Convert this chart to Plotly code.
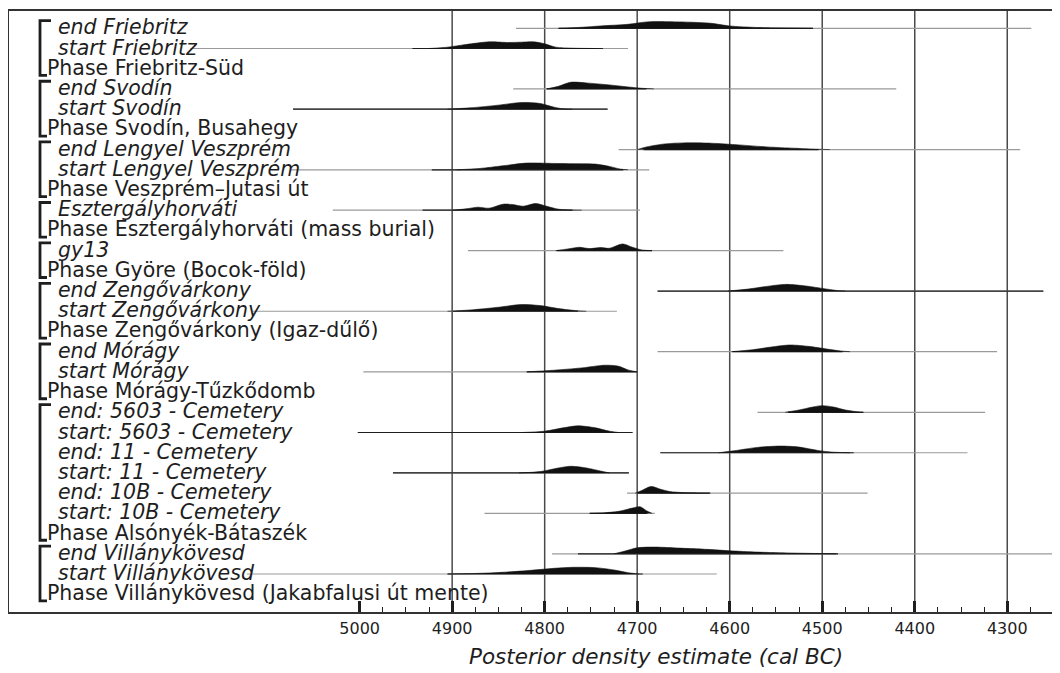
import plotly.graph_objects as go

# ---------------- data ----------------
labels = [
    "end Friebritz", "start Friebritz", "Phase Friebritz-Süd",
    "end Svodín", "start Svodín", "Phase Svodín, Busahegy",
    "end Lengyel Veszprém", "start Lengyel Veszprém", "Phase Veszprém–Jutasi út",
    "Esztergályhorváti", "Phase Esztergályhorváti (mass burial)",
    "gy13", "Phase Györe (Bocok-föld)",
    "end Zengővárkony", "start Zengővárkony", "Phase Zengővárkony (Igaz-dűlő)",
    "end Mórágy", "start Mórágy", "Phase Mórágy-Tűzkődomb",
    "end: 5603 - Cemetery", "start: 5603 - Cemetery",
    "end: 11 - Cemetery", "start: 11 - Cemetery",
    "end: 10B - Cemetery", "start: 10B - Cemetery",
    "Phase Alsónyék-Bátaszék",
    "end Villánykövesd", "start Villánykövesd",
    "Phase Villánykövesd (Jakabfalusi út mente)",
]

# outer (light) range lines, cal BC
outer_lo = [4831, 5183, None, 4834, 5072, None, 4720, 5075, None, 5029, None,
            4883, None, 4678, 5115, None, 4678, 4996, None, 4570, 5002, 4675,
            4964, 4711, 4865, None, 4792, 5122, None]
outer_hi = [4274, 4710, None, 4420, 4732, None, 4286, 4687, None, 4697, None,
            4542, None, 4261, 4722, None, 4311, 4700, None, 4324, 4705, 4343,
            4709, 4451, 4681, None, 4230, 4614, None]
# inner (dark) range lines
inner_lo = [4785, 4943, None, 4798, 5072, None, 4693, 4922, None, 4932, None,
            4787, None, 4678, 4899, None, 4597, 4819, None, 4537, 5002, 4675,
            4964, 4700, 4751, None, 4764, 4905, None]
inner_hi = [4510, 4737, None, 4690, 4732, None, 4504, 4715, None, 4770, None,
            4684, None, 4261, 4764, None, 4478, 4700, None, 4456, 4705, 4466,
            4709, 4621, 4689, None, 4483, 4694, None]

# posterior density outlines (year, relative density)
dens_years = [
    [4785, 4760, 4740, 4710, 4690, 4670, 4640, 4620, 4600, 4570, 4540, 4510],
    [4925, 4905, 4885, 4860, 4840, 4825, 4812, 4800, 4788, 4770, 4745],
    None,
    [4798, 4785, 4772, 4755, 4730, 4710, 4695, 4682],
    [4905, 4880, 4850, 4825, 4805, 4790, 4780, 4770],
    None,
    [4700, 4690, 4670, 4650, 4620, 4590, 4560, 4530, 4505, 4492],
    [4895, 4870, 4845, 4820, 4790, 4760, 4745, 4730, 4718, 4710],
    None,
    [4900, 4885, 4872, 4860, 4845, 4835, 4823, 4810, 4798, 4785, 4770, 4760],
    None,
    [4788, 4775, 4762, 4752, 4740, 4730, 4716, 4705, 4695, 4684],
    None,
    [4602, 4580, 4560, 4540, 4520, 4500, 4485, 4475],
    [4905, 4880, 4850, 4826, 4805, 4785, 4765, 4755],
    None,
    [4598, 4575, 4555, 4535, 4515, 4495, 4480, 4470],
    [4820, 4790, 4760, 4735, 4720, 4710, 4700],
    None,
    [4540, 4525, 4510, 4500, 4488, 4475, 4460, 4455],
    [4825, 4800, 4780, 4764, 4745, 4730, 4720],
    [4612, 4595, 4570, 4545, 4525, 4505, 4490, 4470],
    [4828, 4805, 4785, 4772, 4755, 4740, 4730],
    [4702, 4695, 4685, 4675, 4665, 4650, 4635, 4622],
    [4752, 4735, 4720, 4705, 4697, 4690, 4684],
    None,
    [4725, 4712, 4700, 4680, 4655, 4630, 4600, 4570, 4530, 4485],
    [4905, 4870, 4840, 4815, 4790, 4770, 4745, 4725, 4710, 4698],
    None,
]
dens_vals = [
    [0, 0.15, 0.35, 0.6, 0.95, 1.0, 0.9, 0.75, 0.35, 0.12, 0.05, 0],
    [0, 0.2, 0.6, 1.0, 0.9, 0.95, 1.0, 0.7, 0.2, 0.05, 0],
    None,
    [0, 0.4, 1.0, 0.9, 0.6, 0.3, 0.1, 0],
    [0, 0.2, 0.6, 1.0, 0.85, 0.3, 0.05, 0],
    None,
    [0, 0.4, 0.85, 1.0, 0.95, 0.7, 0.4, 0.2, 0.05, 0],
    [0, 0.2, 0.6, 1.0, 0.95, 0.9, 0.85, 0.5, 0.1, 0],
    None,
    [0, 0.2, 0.45, 0.3, 0.9, 0.85, 0.6, 1.0, 0.6, 0.15, 0.03, 0],
    None,
    [0, 0.25, 0.5, 0.3, 0.45, 0.35, 1.0, 0.5, 0.1, 0],
    None,
    [0, 0.3, 0.7, 1.0, 0.8, 0.4, 0.1, 0],
    [0, 0.2, 0.6, 1.0, 0.85, 0.4, 0.08, 0],
    None,
    [0, 0.3, 0.7, 1.0, 0.8, 0.4, 0.1, 0],
    [0, 0.25, 0.6, 1.0, 0.85, 0.3, 0],
    None,
    [0, 0.35, 0.8, 1.0, 0.8, 0.35, 0.05, 0],
    [0, 0.2, 0.7, 1.0, 0.7, 0.2, 0],
    [0, 0.3, 0.8, 1.0, 0.85, 0.35, 0.1, 0],
    [0, 0.2, 0.75, 1.0, 0.75, 0.3, 0],
    [0, 0.4, 1.0, 0.6, 0.25, 0.08, 0.02, 0],
    [0, 0.1, 0.3, 0.8, 1.0, 0.4, 0],
    None,
    [0, 0.45, 0.9, 1.0, 0.85, 0.7, 0.45, 0.25, 0.1, 0],
    [0, 0.1, 0.3, 0.55, 0.85, 1.0, 0.95, 0.6, 0.2, 0],
    None,
]

tick_years = [5000, 4900, 4800, 4700, 4600, 4500, 4400, 4300]
tick_labels = ["5000", "4900", "4800", "4700", "4600", "4500", "4400", "4300"]
grid_years = [4900, 4800, 4700, 4600, 4500, 4400, 4300]
x_title = "Posterior density estimate (cal BC)"

# ---------------- layout constants ----------------
# the page body adds an 8px margin, so the figure is 8px smaller
W, H = 1052, 665
ML, MR, MT, MB = 1, 0, 3, 61
PLOT_LEFT_PAGE = 9      # page pixel of the plot's left edge
PLOT_BOTTOM_PAGE = 612  # page pixel of the plot's bottom edge
PW = W - ML - MR
PH = H - MT - MB
X_RANGE = [5379, 4243]
Y_RANGE = [29.88, 0.144]
DENS_SCALE = 0.33
LABEL_FONT = "DejaVu Sans"
DARK = "#1e1e1e"
LIGHT = "#9a9a9a"

def px_to_paper(px):
    return (px - PLOT_LEFT_PAGE) / PW

def py_to_paper(py):
    return (PLOT_BOTTOM_PAGE - py) / PH

rows = list(range(1, len(labels) + 1))

fig = go.Figure()

# range lines
for i, r in enumerate(rows):
    if outer_lo[i] is not None:
        fig.add_trace(go.Scatter(x=[outer_lo[i], outer_hi[i]], y=[r, r], mode="lines",
                                 line=dict(color=LIGHT, width=1.2),
                                 hoverinfo="skip", showlegend=False))
    if inner_lo[i] is not None:
        fig.add_trace(go.Scatter(x=[inner_lo[i], inner_hi[i]], y=[r, r], mode="lines",
                                 line=dict(color=DARK, width=1.2),
                                 hoverinfo="skip", showlegend=False))

# densities
for i, r in enumerate(rows):
    if dens_years[i] is None:
        continue
    ys = [r - v * DENS_SCALE for v in dens_vals[i]]
    fig.add_trace(go.Scatter(x=dens_years[i], y=ys, mode="lines",
                             line=dict(color="#111111", width=0.6, shape="spline", smoothing=0.8),
                             fill="toself", fillcolor="#111111",
                             hoverinfo="skip", showlegend=False))

shapes = []
# vertical grid lines
for g in grid_years:
    shapes.append(dict(type="line", xref="x", yref="paper", x0=g, x1=g, y0=0, y1=1,
                       line=dict(color="#4a4a4a", width=1.5), layer="below"))

# brackets grouping each phase
groups = []
start = 1
for i, lab in enumerate(labels):
    if lab.startswith("Phase"):
        groups.append((start, i + 1))
        start = i + 2
bx0 = px_to_paper(40)
bx_top = px_to_paper(51)
bx_bot = px_to_paper(47)
for a, b in groups:
    yt = a - 0.38
    yb = b + 0.33
    shapes.append(dict(type="path", xref="paper", yref="y",
                       path=f"M {bx_top},{yt} L {bx0},{yt} L {bx0},{yb} L {bx_bot},{yb}",
                       line=dict(color=DARK, width=2.8)))

annotations = []
for i, r in enumerate(rows):
    lab = labels[i]
    phase = lab.startswith("Phase")
    annotations.append(dict(
        x=px_to_paper(45 if phase else 56), xref="paper", y=r, yref="y",
        text=lab, showarrow=False, xanchor="left", yanchor="middle", yshift=1,
        font=dict(family=LABEL_FONT, size=20.5, color=DARK,
                  style="normal" if phase else "italic")))

annotations.append(dict(
    x=px_to_paper(656), xref="paper", y=py_to_paper(656), yref="paper",
    text=x_title, showarrow=False, xanchor="center", yanchor="middle",
    font=dict(family=LABEL_FONT, size=21.5, color=DARK, style="italic")))

minor_vals = [5000 - 25 * k for k in range(1, 31) if (5000 - 25 * k) % 100 != 0]

fig.update_layout(
    width=W, height=H,
    margin=dict(l=ML, r=MR, t=MT, b=MB),
    paper_bgcolor="white", plot_bgcolor="white",
    shapes=shapes, annotations=annotations,
    xaxis=dict(range=X_RANGE, showgrid=False, zeroline=False, automargin=False,
               tickmode="array", tickvals=tick_years, ticktext=tick_labels,
               ticks="inside", ticklen=11, tickwidth=2.5, tickcolor=DARK,
               ticklabelstandoff=1,
               tickfont=dict(family=LABEL_FONT, size=16, color=DARK),
               showline=True, linecolor="#333333", linewidth=2, mirror=True,
               minor=dict(tickmode="array", tickvals=minor_vals, ticks="inside",
                          ticklen=5, tickwidth=1, tickcolor=DARK, showgrid=False)),
    yaxis=dict(range=Y_RANGE, showgrid=False, zeroline=False, showticklabels=False,
               automargin=False,
               ticks="", showline=True, linecolor="#333333", linewidth=2, mirror=False),
)

fig.write_html("out.html")
